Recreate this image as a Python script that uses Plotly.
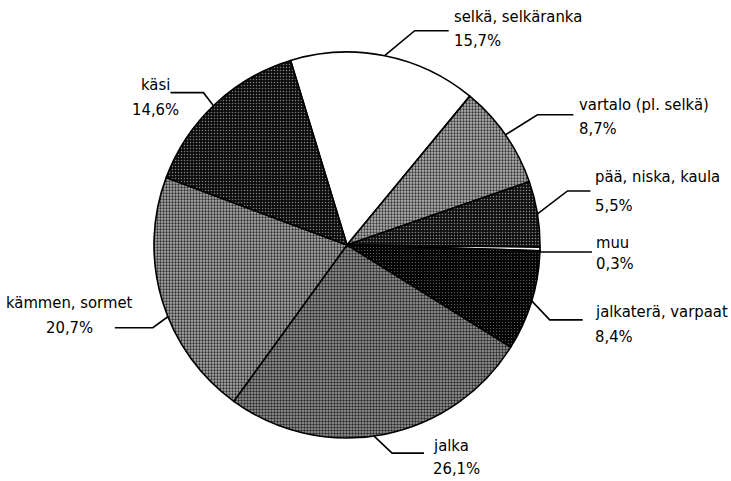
import math
import plotly.graph_objects as go

# ---- data ----
labels = ["selkä, selkäranka", "vartalo (pl. selkä)", "pää, niska, kaula", "muu",
          "jalkaterä, varpaat", "jalka", "kämmen, sormet", "käsi"]
values = [15.7, 8.7, 5.5, 0.3, 8.4, 26.1, 20.7, 14.6]
value_text = ["15,7%", "8,7%", "5,5%", "0,3%", "8,4%", "26,1%", "20,7%", "14,6%"]

# ---- style / layout ----
W, H = 731, 481
CX, CY, R = 347, 245, 193
ROTATION = -17.0
FONT = "DejaVu Sans Condensed, Liberation Sans Narrow, Arial Narrow, sans-serif"
FSIZE = 16.5

fills = [
    dict(bg="#ffffff", fg="#ffffff", sol=0.0),
    dict(bg="#b4b4b4", fg="#353535", sol=0.45),
    dict(bg="#101010", fg="#8a8a8a", sol=0.2),
    dict(bg="#ffffff", fg="#ffffff", sol=0.0),
    dict(bg="#050505", fg="#707070", sol=0.12),
    dict(bg="#a0a0a0", fg="#2a2a2a", sol=0.5),
    dict(bg="#ababab", fg="#2e2e2e", sol=0.45),
    dict(bg="#0c0c0c", fg="#808080", sol=0.2),
]

# per-label leader style: angle nudge, elbow offset, horizontal length (signed),
# text x offset from line end, line-1 and line-2 y offsets from horizontal segment
leaders = [
    dict(nudge=0.0, ex=30, ey=-25, hl=34, tx=3, d1=-14, d2=10),
    dict(nudge=0.0, ex=32, ey=-20, hl=36, tx=4, d1=-10, d2=14),
    dict(nudge=0.0, ex=30, ey=-23, hl=23, tx=3, d1=-14, d2=15),
    dict(nudge=0.0, ex=0, ey=3, hl=52, tx=2, d1=-9, d2=12),
    dict(nudge=0.0, ex=18, ey=19, hl=33, tx=10, d1=-8, d2=17),
    dict(nudge=3.0, ex=18, ey=17, hl=32, tx=7, d1=-8, d2=15),
    dict(nudge=-5.0, ex=-15, ey=11, hl=-38, tx=-45, d1=-25, d2=0),
    dict(nudge=-0.5, ex=-10, ey=-13, hl=-33, tx=-15, d1=-8, d2=17),
]


def px(x):
    return x / W


def py(y):
    return 1 - y / H


fig = go.Figure(go.Pie(
    labels=labels,
    values=values,
    sort=False,
    direction="clockwise",
    rotation=ROTATION,
    textinfo="none",
    hoverinfo="label+percent",
    showlegend=False,
    marker=dict(
        colors=[f["bg"] for f in fills],
        line=dict(color="#000000", width=1.6),
        pattern=dict(
            shape=["" if f["sol"] == 0 else "." for f in fills],
            bgcolor=[f["bg"] for f in fills],
            fgcolor=[f["fg"] for f in fills],
            size=3,
            solidity=[max(f["sol"], 0.01) for f in fills],
        ),
    ),
    domain=dict(x=[px(CX - R), px(CX + R)], y=[py(CY + R), py(CY - R)]),
))

total = sum(values)
cum = 0.0
shapes = []
annotations = []
for lab, v, vt, ld in zip(labels, values, value_text, leaders):
    mid = ROTATION + 360 * (cum + v / 2) / total + ld["nudge"]
    cum += v
    a = math.radians(mid)
    x0 = CX + R * math.sin(a)
    y0 = CY - R * math.cos(a)
    x1, y1 = x0 + ld["ex"], y0 + ld["ey"]
    x2 = x1 + ld["hl"]
    shapes.append(dict(
        type="path", xref="paper", yref="paper",
        path=f"M {px(x0)},{py(y0)} L {px(x1)},{py(y1)} L {px(x2)},{py(y1)}",
        line=dict(color="#000000", width=1.6),
    ))
    right = ld["hl"] > 0
    for txt, dy in ((lab, ld["d1"]), (vt, ld["d2"])):
        annotations.append(dict(
            x=px(x2 + ld["tx"]), y=py(y1 + dy), xref="paper", yref="paper",
            text=txt, showarrow=False,
            xanchor="left" if right else "center", yanchor="middle",
            font=dict(family=FONT, size=FSIZE, color="#000000"),
        ))

fig.update_layout(
    width=W, height=H,
    margin=dict(l=0, r=0, t=0, b=0),
    paper_bgcolor="#ffffff",
    plot_bgcolor="#ffffff",
    shapes=shapes,
    annotations=annotations,
)

fig.write_html("out.html", config={"displayModeBar": False},
               post_script="document.body.style.margin='0';")
